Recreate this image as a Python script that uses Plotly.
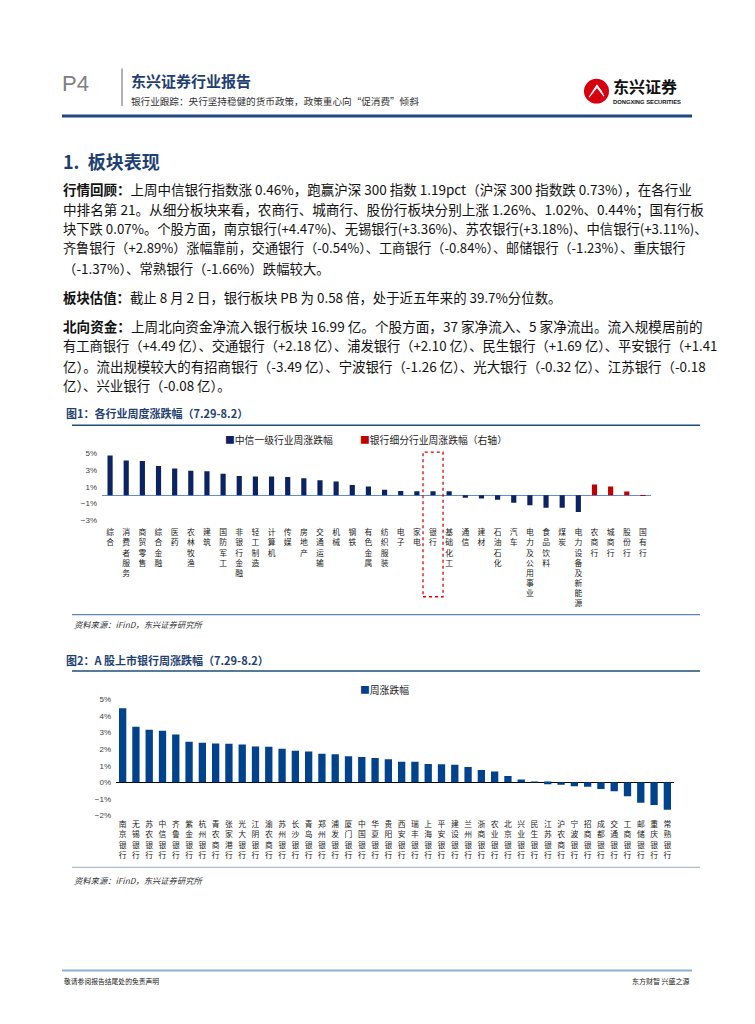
import plotly.graph_objects as go

W, H = 755, 1024


def px(x):
    return x / W


def py(y):
    return 1 - y / H


# ---------------- data ----------------
industries = ["综合", "消费者服务", "商贸零售", "综合金融", "医药", "农林牧渔", "建筑", "国防军工",
              "非银行金融", "轻工制造", "计算机", "传媒", "房地产", "交通运输", "机械", "钢铁",
              "有色金属", "纺织服装", "电子", "家电", "银行", "基础化工", "通信", "建材",
              "石油石化", "汽车", "电力及公用事业", "食品饮料", "煤炭", "电力设备及新能源"]
industry_chg = [4.72, 4.10, 4.05, 3.47, 3.15, 2.90, 2.85, 2.53,
                2.26, 2.20, 2.20, 2.15, 2.00, 1.78, 1.62, 1.20,
                1.03, 0.64, 0.49, 0.46, 0.46, 0.45, -0.30, -0.40,
                -0.56, -0.90, -1.20, -1.50, -1.50, -2.00]
bank_segments = ["农商行", "城商行", "股份行", "国有行"]
bank_segment_chg = [1.26, 1.02, 0.44, -0.07]

banks = ["南京银行", "无锡银行", "苏农银行", "中信银行", "齐鲁银行", "紫金银行", "杭州银行", "青农商行",
         "张家港行", "光大银行", "江阴银行", "渝农商行", "苏州银行", "长沙银行", "青岛银行", "郑州银行",
         "浦发银行", "厦门银行", "中国银行", "华夏银行", "贵阳银行", "西安银行", "瑞丰银行", "上海银行",
         "平安银行", "建设银行", "兰州银行", "浙商银行", "农业银行", "北京银行", "兴业银行", "民生银行",
         "江苏银行", "沪农商行", "宁波银行", "招商银行", "成都银行", "交通银行", "工商银行", "邮储银行",
         "重庆银行", "常熟银行"]
bank_chg = [4.47, 3.36, 3.18, 3.11, 2.89, 2.45, 2.39, 2.35,
            2.33, 2.29, 2.17, 2.15, 2.03, 1.91, 1.87, 1.73,
            1.69, 1.57, 1.53, 1.47, 1.39, 1.25, 1.24, 1.11,
            1.09, 1.07, 0.92, 0.74, 0.66, 0.38, 0.18, 0.01,
            -0.12, -0.14, -0.24, -0.26, -0.40, -0.54, -0.84, -1.23,
            -1.37, -1.66]

NAVY = "#0B2362"
RED = "#C00000"
BLUE2 = "#00428C"
TITLE_BLUE = "#1F3F73"
CJK = "Noto Sans CJK SC"
LAT = "Liberation Sans, Noto Sans CJK SC"

cats1 = industries + bank_segments
fig = go.Figure()

fig.add_trace(go.Bar(x=industries, y=industry_chg, name="中信一级行业周涨跌幅",
                     marker=dict(color=NAVY, line=dict(width=0)), width=0.32,
                     xaxis="x", yaxis="y", showlegend=False))
fig.add_trace(go.Bar(x=bank_segments, y=bank_segment_chg, name="银行细分行业周涨跌幅（右轴）",
                     marker=dict(color=RED, line=dict(width=0)), width=0.32,
                     xaxis="x", yaxis="y2", showlegend=False))
fig.add_trace(go.Bar(x=banks, y=bank_chg, name="周涨跌幅",
                     marker=dict(color=BLUE2, line=dict(width=0)), width=0.55,
                     xaxis="x2", yaxis="y3", showlegend=False))

tickfont_cat = dict(family=CJK, size=7.8, color="#1A1A1A")
tickfont_num = dict(family=LAT, size=8, color="#404040")

fig.update_layout(
    width=W, height=H,
    margin=dict(l=0, r=0, t=0, b=0),
    paper_bgcolor="white", plot_bgcolor="white",
    barmode="overlay",
    xaxis=dict(domain=[px(102), px(651)], type="category",
               categoryorder="array", categoryarray=cats1,
               tickvals=cats1, ticktext=["<br>".join(c) for c in cats1],
               tickangle=0, tickfont=tickfont_cat, showgrid=False, showline=False,
               ticks="", ticklabelstandoff=6, anchor="y", fixedrange=True),
    yaxis=dict(domain=[py(521), py(453)], range=[-3, 5], tick0=1, dtick=2,
               ticksuffix="%", tickfont=tickfont_num, showgrid=False,
               zeroline=True, zerolinecolor="#5F8FD0", zerolinewidth=1.2,
               showline=False, ticks="", ticklabelstandoff=4, anchor="x"),
    yaxis2=dict(overlaying="y", side="right", range=[-3, 5], visible=False,
                showgrid=False, zeroline=False, anchor="x"),
    xaxis2=dict(domain=[px(116), px(674)], type="category",
                categoryorder="array", categoryarray=banks,
                tickvals=banks, ticktext=["<br>".join(c) for c in banks],
                tickangle=0, tickfont=tickfont_cat, showgrid=False, showline=False,
                ticks="", ticklabelstandoff=3, anchor="y3"),
    yaxis3=dict(domain=[py(818.7), py(701.7)], range=[-2, 5], dtick=1,
                ticksuffix="%", tickfont=tickfont_num, showgrid=False,
                zeroline=True, zerolinecolor="#000000", zerolinewidth=1.2,
                showline=False, ticks="", ticklabelstandoff=4, anchor="x2"),
)

shapes = []
ann = []


def hline(y, x0, x1, color, width):
    shapes.append(dict(type="line", xref="paper", yref="paper",
                       x0=px(x0), x1=px(x1), y0=py(y), y1=py(y),
                       line=dict(color=color, width=width)))


def text(x, y, s, size, color="#000000", family=CJK, xanchor="left", yanchor="middle"):
    ann.append(dict(xref="paper", yref="paper", x=px(x), y=py(y), text=s,
                    showarrow=False, xanchor=xanchor, yanchor=yanchor,
                    font=dict(size=size, color=color, family=family)))


# ---------------- header ----------------
text(60, 80, "P4", 22, "#7F7F7F", family="Liberation Sans")
shapes.append(dict(type="line", xref="paper", yref="paper", x0=px(122), x1=px(122),
                   y0=py(65), y1=py(103), line=dict(color="#7F7F7F", width=1.2)))
text(129, 77, "<b>东兴证券行业报告</b>", 15, TITLE_BLUE)
text(129, 98, "银行业跟踪：央行坚持稳健的货币政策，政策重心向“促消费”倾斜", 9.6, "#333333")
# logo
shapes.append(dict(type="circle", xref="paper", yref="paper",
                   x0=px(584), x1=px(609), y0=py(100.5), y1=py(75.5),
                   fillcolor="#D7000F", line=dict(color="#D7000F", width=0)))
for k in range(3):
    shapes.append(dict(type="path", xref="paper", yref="paper",
                       path=f"M {px(589 + k*2)} {py(94 - k*3)} L {px(597)} {py(84 - k*1)} L {px(604 - k)} {py(93 - k*2)}",
                       line=dict(color="white", width=1.1)))
text(611, 83, "<b>东兴证券</b>", 16, "#111111")
text(611, 98.5, "<b>DONGXING SECURITIES</b>", 5.8, "#111111", family="Liberation Sans")
hline(113, 62, 692, "#1F497D", 3)

# ---------------- section text ----------------
text(61, 158, "<b>1.  板块表现</b>", 18, TITLE_BLUE)
body = [
    (187, 13.5, "<b>行情回顾：</b>上周中信银行指数涨 0.46%，跑赢沪深 300 指数 1.19pct（沪深 300 指数跌 0.73%），在各行业"),
    (207, 13.6, "中排名第 21。从细分板块来看，农商行、城商行、股份行板块分别上涨 1.26%、1.02%、0.44%；国有行板"),
    (226, 13.3, "块下跌 0.07%。个股方面，南京银行(+4.47%)、无锡银行(+3.36%)、苏农银行(+3.18%)、中信银行(+3.11%)、"),
    (246, 13.1, "齐鲁银行（+2.89%）涨幅靠前，交通银行（-0.54%）、工商银行（-0.84%）、邮储银行（-1.23%）、重庆银行"),
    (266, 13.4, "（-1.37%）、常熟银行（-1.66%）跌幅较大。"),
    (296, 13.4, "<b>板块估值：</b>截止 8 月 2 日，银行板块 PB 为 0.58 倍，处于近五年来的 39.7%分位数。"),
    (325, 13.6, "<b>北向资金：</b>上周北向资金净流入银行板块 16.99 亿。个股方面，37 家净流入、5 家净流出。流入规模居前的"),
    (345, 13.25, "有工商银行（+4.49 亿）、交通银行（+2.18 亿）、浦发银行（+2.10 亿）、民生银行（+1.69 亿）、平安银行（+1.41"),
    (365, 13.45, "亿）。流出规模较大的有招商银行（-3.49 亿）、宁波银行（-1.26 亿）、光大银行（-0.32 亿）、江苏银行（-0.18"),
    (384, 13.4, "亿）、兴业银行（-0.08 亿）。"),
]
for y, sz, s in body:
    text(61, y, s, sz, "#111111")

# ---------------- figure 1 ----------------
text(64, 413, "<b>图1：各行业周度涨跌幅（7.29-8.2）</b>", 11, TITLE_BLUE)
hline(425, 72, 700, "#1F4E79", 1.5)
text(223, 440, f"<span style='color:{NAVY}'>■</span>中信一级行业周涨跌幅", 9.8, "#222222")
text(358, 440, f"<span style='color:{RED}'>■</span>银行细分行业周涨跌幅（右轴）", 9.8, "#222222")
shapes.append(dict(type="rect", xref="x", yref="paper",
                   x0=cats1.index("银行") - 0.62, x1=cats1.index("银行") + 0.62,
                   y0=py(598), y1=py(452),
                   line=dict(color="#E00000", width=1.3, dash="dot")))
hline(616, 72, 700, "#5B84B8", 1.2)
text(72, 626, "<i>资料来源：iFinD，东兴证券研究所</i>", 8.3, "#333333")

# ---------------- figure 2 ----------------
text(64, 662, "<b>图2：A 股上市银行周涨跌幅（7.29-8.2）</b>", 11, TITLE_BLUE)
hline(673, 72, 700, "#1F4E79", 1.5)
text(358, 692, f"<span style='color:{BLUE2}'>■</span>周涨跌幅", 9.8, "#222222")
hline(871, 72, 700, "#A9BCD0", 1.2)
text(72, 884, "<i>资料来源：iFinD，东兴证券研究所</i>", 8.3, "#333333")

# ---------------- footer ----------------
hline(975, 62, 692, "#8DAFD6", 2)
text(62, 986, "敬请参阅报告结尾处的免责声明", 6.8, "#222222")
text(692, 986, "东方财智 兴盛之源", 7, "#222222", xanchor="right")

fig.update_layout(shapes=shapes, annotations=ann)

fig.write_html("out.html", config={"displayModeBar": False},
               post_script="document.body.style.margin='0';")
